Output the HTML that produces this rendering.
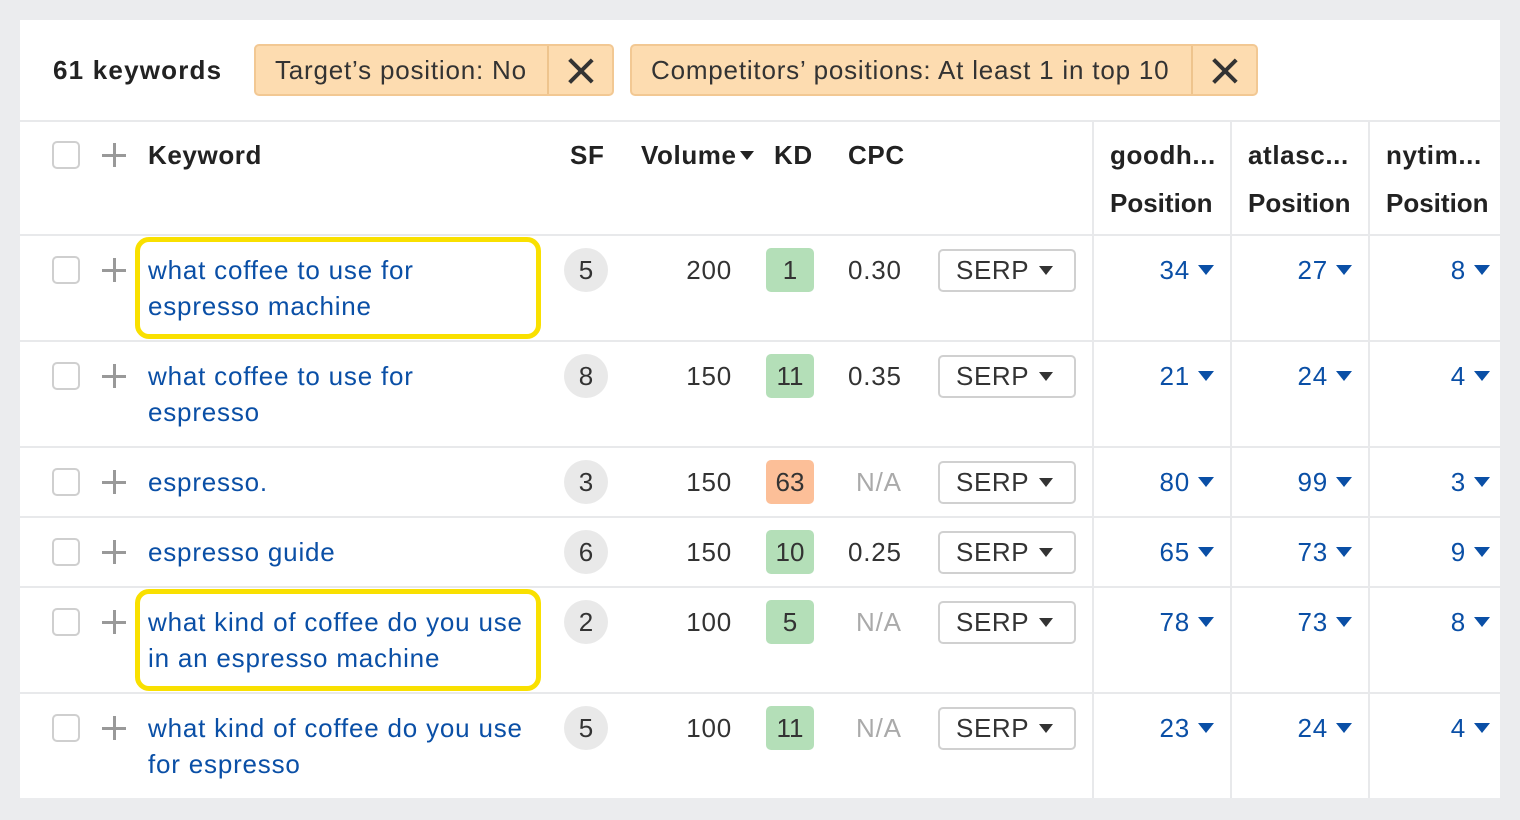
<!DOCTYPE html>
<html><head><meta charset="utf-8"><style>
*{margin:0;padding:0;box-sizing:border-box}
body{width:1520px;height:820px;background:#ebecee;font-family:"Liberation Sans",sans-serif;position:relative;overflow:hidden;color:#333}
.card{position:absolute;left:20px;top:20px;width:1480px;height:778px;background:#fff}
.a{position:absolute;white-space:nowrap;font-size:26px;line-height:30px;letter-spacing:0.8px}
.b{font-weight:bold;color:#222;letter-spacing:0.6px}
.lk{color:#0a4fa6}
.hl{position:absolute;left:0;width:1500px;height:2px;background:#e8e9eb}
.vl{position:absolute;top:121px;width:2px;height:677px;background:#e8e9eb}
.cb{position:absolute;left:52px;width:28px;height:28px;border:2px solid #cfcfcf;border-radius:5px;background:#fff}
.pl{position:absolute;left:102px;width:24px;height:24px}
.pl:before{content:"";position:absolute;left:11px;top:0;width:3px;height:24px;background:#999}
.pl:after{content:"";position:absolute;left:0;top:11px;width:24px;height:3px;background:#999}
.sf{position:absolute;left:564px;width:44px;height:44px;border-radius:50%;background:#e9e9e9;text-align:center;line-height:44px;font-size:26px}
.kd{position:absolute;left:766px;width:48px;height:44px;border-radius:5px;background:#b4dfb8;text-align:center;line-height:44px;font-size:26px}
.vol{position:absolute;right:788px;font-size:26px;line-height:30px;letter-spacing:0.8px}
.serp{position:absolute;left:938px;width:138px;height:43px;border:2px solid #d0d0d0;border-radius:5px;font-size:26px;line-height:39px;padding-left:16px;letter-spacing:0.6px}
.tri{display:inline-block;width:0;height:0;border-left:7px solid transparent;border-right:7px solid transparent;border-top:9px solid #333;vertical-align:middle;margin-left:10px;margin-top:-4px}
.pos{position:absolute;font-size:26px;line-height:30px;color:#0a4fa6;text-align:right;letter-spacing:0.8px}
.pos i{display:inline-block;width:0;height:0;border-left:8px solid transparent;border-right:8px solid transparent;border-top:10px solid #0a4fa6;vertical-align:middle;margin-left:8px;margin-top:-4px}
.na{color:#aaa}
.ybox{position:absolute;left:135px;width:406px;height:102px;border:5px solid #f9e000;border-radius:14px}
.chip{position:absolute;top:44px;height:52px;background:#fddcb0;border:2px solid #f2c893;border-radius:5px}
.chip .d{position:absolute;top:0;width:2px;height:48px;background:#eec48d}
.x{position:absolute;top:12px;width:26px;height:26px}
.x:before,.x:after{content:"";position:absolute;left:11px;top:-3px;width:3.5px;height:32px;background:#333;transform:rotate(45deg)}
.x:after{transform:rotate(-45deg)}
</style></head><body>
<div class="card"></div>
<div class="a b" style="left:53px;top:55px;letter-spacing:1.2px">61 keywords</div>
<div class="chip" style="left:254px;width:360px"><div class="d" style="left:291px"></div><div class="x" style="left:312px"></div></div>
<div class="a" style="left:275px;top:55px">Target’s position: No</div>
<div class="chip" style="left:630px;width:628px"><div class="d" style="left:559px"></div><div class="x" style="left:580px"></div></div>
<div class="a" style="left:651px;top:55px">Competitors’ positions: At least 1 in top 10</div>
<div class="hl" style="top:120px;left:20px;width:1480px"></div>
<div class="hl" style="top:234px;left:20px;width:1480px"></div>
<div class="hl" style="top:340px;left:20px;width:1480px"></div>
<div class="hl" style="top:446px;left:20px;width:1480px"></div>
<div class="hl" style="top:516px;left:20px;width:1480px"></div>
<div class="hl" style="top:586px;left:20px;width:1480px"></div>
<div class="hl" style="top:692px;left:20px;width:1480px"></div>
<div class="vl" style="left:1092px"></div><div class="vl" style="left:1230px"></div><div class="vl" style="left:1368px"></div>
<!-- header -->
<div class="cb" style="top:141px"></div><div class="pl" style="top:143px"></div>
<div class="a b" style="left:148px;top:140px">Keyword</div>
<div class="a b" style="left:570px;top:140px">SF</div>
<div class="a b" style="left:641px;top:140px">Volume<span style="display:inline-block;width:0;height:0;border-left:7px solid transparent;border-right:7px solid transparent;border-top:9px solid #222;vertical-align:middle;margin-left:3px;margin-top:-4px"></span></div>
<div class="a b" style="left:774px;top:140px">KD</div>
<div class="a b" style="left:848px;top:140px">CPC</div>
<div class="a b" style="left:1110px;top:140px">goodh...</div><div class="a b" style="left:1110px;top:188px;letter-spacing:0">Position</div>
<div class="a b" style="left:1248px;top:140px">atlasc...</div><div class="a b" style="left:1248px;top:188px;letter-spacing:0">Position</div>
<div class="a b" style="left:1386px;top:140px">nytim...</div><div class="a b" style="left:1386px;top:188px;letter-spacing:0">Position</div>
<!-- row1 c=270 -->
<div class="cb" style="top:256px"></div><div class="pl" style="top:258px"></div>
<div class="a lk" style="left:148px;top:255px">what coffee to use for</div><div class="a lk" style="left:148px;top:291px">espresso machine</div>
<div class="sf" style="top:248px">5</div><div class="vol" style="top:255px">200</div>
<div class="kd" style="top:248px">1</div><div class="a" style="left:848px;top:255px">0.30</div>
<div class="serp" style="top:249px">SERP<span class="tri"></span></div>
<div class="pos" style="right:306px;top:255px">34<i></i></div><div class="pos" style="right:168px;top:255px">27<i></i></div><div class="pos" style="right:30px;top:255px">8<i></i></div>
<div class="ybox" style="top:237px"></div>
<!-- row2 c=376 -->
<div class="cb" style="top:362px"></div><div class="pl" style="top:364px"></div>
<div class="a lk" style="left:148px;top:361px">what coffee to use for</div><div class="a lk" style="left:148px;top:397px">espresso</div>
<div class="sf" style="top:354px">8</div><div class="vol" style="top:361px">150</div>
<div class="kd" style="top:354px">11</div><div class="a" style="left:848px;top:361px">0.35</div>
<div class="serp" style="top:355px">SERP<span class="tri"></span></div>
<div class="pos" style="right:306px;top:361px">21<i></i></div><div class="pos" style="right:168px;top:361px">24<i></i></div><div class="pos" style="right:30px;top:361px">4<i></i></div>
<!-- row3 c=482 -->
<div class="cb" style="top:468px"></div><div class="pl" style="top:470px"></div>
<div class="a lk" style="left:148px;top:467px">espresso.</div>
<div class="sf" style="top:460px">3</div><div class="vol" style="top:467px">150</div>
<div class="kd" style="top:460px;background:#fcbf98">63</div><div class="a na" style="left:856px;top:467px">N/A</div>
<div class="serp" style="top:461px">SERP<span class="tri"></span></div>
<div class="pos" style="right:306px;top:467px">80<i></i></div><div class="pos" style="right:168px;top:467px">99<i></i></div><div class="pos" style="right:30px;top:467px">3<i></i></div>
<!-- row4 c=552 -->
<div class="cb" style="top:538px"></div><div class="pl" style="top:540px"></div>
<div class="a lk" style="left:148px;top:537px">espresso guide</div>
<div class="sf" style="top:530px">6</div><div class="vol" style="top:537px">150</div>
<div class="kd" style="top:530px">10</div><div class="a" style="left:848px;top:537px">0.25</div>
<div class="serp" style="top:531px">SERP<span class="tri"></span></div>
<div class="pos" style="right:306px;top:537px">65<i></i></div><div class="pos" style="right:168px;top:537px">73<i></i></div><div class="pos" style="right:30px;top:537px">9<i></i></div>
<!-- row5 c=622 -->
<div class="cb" style="top:608px"></div><div class="pl" style="top:610px"></div>
<div class="a lk" style="left:148px;top:607px">what kind of coffee do you use</div><div class="a lk" style="left:148px;top:643px">in an espresso machine</div>
<div class="sf" style="top:600px">2</div><div class="vol" style="top:607px">100</div>
<div class="kd" style="top:600px">5</div><div class="a na" style="left:856px;top:607px">N/A</div>
<div class="serp" style="top:601px">SERP<span class="tri"></span></div>
<div class="pos" style="right:306px;top:607px">78<i></i></div><div class="pos" style="right:168px;top:607px">73<i></i></div><div class="pos" style="right:30px;top:607px">8<i></i></div>
<div class="ybox" style="top:589px"></div>
<!-- row6 c=728 -->
<div class="cb" style="top:714px"></div><div class="pl" style="top:716px"></div>
<div class="a lk" style="left:148px;top:713px">what kind of coffee do you use</div><div class="a lk" style="left:148px;top:749px">for espresso</div>
<div class="sf" style="top:706px">5</div><div class="vol" style="top:713px">100</div>
<div class="kd" style="top:706px">11</div><div class="a na" style="left:856px;top:713px">N/A</div>
<div class="serp" style="top:707px">SERP<span class="tri"></span></div>
<div class="pos" style="right:306px;top:713px">23<i></i></div><div class="pos" style="right:168px;top:713px">24<i></i></div><div class="pos" style="right:30px;top:713px">4<i></i></div>
</body></html>
